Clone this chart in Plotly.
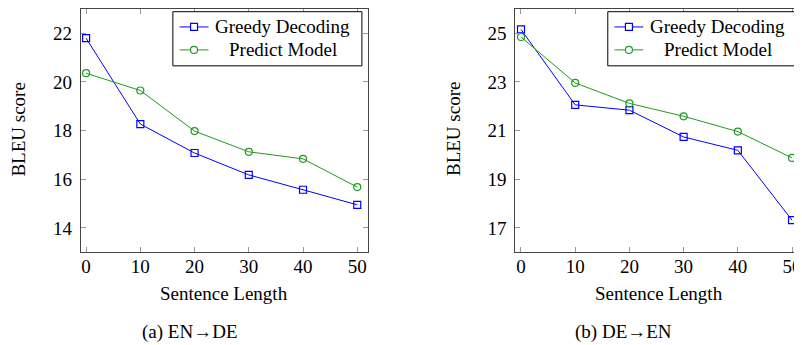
import plotly.graph_objects as go

# ---- data ----
lengths = [0, 10, 20, 30, 40, 50]
en_de_greedy = [21.80, 18.27, 17.08, 16.18, 15.57, 14.95]
en_de_predict = [20.36, 19.65, 17.98, 17.13, 16.84, 15.68]
de_en_greedy = [25.16, 22.06, 21.84, 20.74, 20.19, 17.32]
de_en_predict = [24.85, 22.96, 22.12, 21.59, 20.96, 19.88]
series_names = ["Greedy Decoding", "Predict Model"]
x_ticks = [0, 10, 20, 30, 40, 50]
y_ticks_left = [14, 16, 18, 20, 22]
y_ticks_right = [17, 19, 21, 23, 25]

OFF = 8  # page body margin
W, H = 802 - OFF, 345 - OFF
FONT = "Liberation Serif, Times New Roman, Times, serif"
BLUE = "#0000ff"
GREEN = "#1f9a1f"

def px_x(p):
    return (p - OFF) / W

def px_y(p):
    return 1 - (p - OFF) / H

fig = go.Figure()

def add_series(x, y, name, color, symbol, xa, ya):
    fig.add_trace(go.Scatter(
        x=x, y=y, name=name, mode="lines+markers",
        line=dict(color=color, width=1),
        marker=dict(symbol=symbol, size=7, color=color,
                    line=dict(color=color, width=1.2)),
        xaxis=xa, yaxis=ya, showlegend=False))

add_series(lengths, en_de_greedy, series_names[0], BLUE, "square-open", "x", "y")
add_series(lengths, en_de_predict, series_names[1], GREEN, "circle-open", "x", "y")
add_series(lengths, de_en_greedy, series_names[0], BLUE, "square-open", "x2", "y2")
add_series(lengths, de_en_predict, series_names[1], GREEN, "circle-open", "x2", "y2")

axis_common = dict(
    showgrid=False, zeroline=False, showline=True, linecolor="#444", linewidth=1,
    mirror="allticks", ticks="inside", ticklen=5, tickcolor="#999", tickwidth=1,
    tickfont=dict(family=FONT, size=19, color="black"), ticklabeloverflow="allow",
)

ytop, ybot = 5, 252
fig.update_layout(
    width=W, height=H,
    margin=dict(l=0, r=0, t=0, b=0),
    paper_bgcolor="white", plot_bgcolor="white",
    xaxis=dict(domain=[px_x(81), px_x(369)], range=[-0.975, 52.0],
               tickvals=x_ticks, anchor="y", ticklabelstandoff=-3, **axis_common),
    yaxis=dict(domain=[px_y(ybot), min(1, px_y(ytop))], range=[13, 23],
               tickvals=y_ticks_left, anchor="x", ticklabelstandoff=4, **axis_common),
    xaxis2=dict(domain=[px_x(516.7), 1.0], range=[-1.03, 51.47],
                tickvals=x_ticks, anchor="y2", ticklabelstandoff=-3, **axis_common),
    yaxis2=dict(domain=[px_y(ybot), min(1, px_y(ytop))], range=[16, 26],
                tickvals=y_ticks_right, anchor="x2", ticklabelstandoff=4, **axis_common),
    showlegend=False,
)

def label(text, x, y, angle=0):
    fig.add_annotation(text=text, x=px_x(x), y=px_y(y), xref="paper", yref="paper",
                       xanchor="center", yanchor="middle", showarrow=False,
                       textangle=angle, font=dict(family=FONT, size=19, color="black"))

label("BLEU score", 18.5, 128.5, -90)
label("Sentence Length", 225, 293)
label("(a) EN\u2192DE", 190, 332)
label("BLEU score", 454, 128.5, -90)
label("Sentence Length", 661, 293)
label("(b) DE\u2192EN", 625, 332)

# ---- legends (drawn in page pixels) ----
def legend_box(x0):
    fig.add_shape(type="rect", xref="paper", yref="paper",
                  x0=px_x(x0), x1=px_x(x0 + 189.5), y0=px_y(65), y1=px_y(10.7),
                  line=dict(color="black", width=1), fillcolor="white", layer="above")
    rows = [(26, BLUE, "square"), (49, GREEN, "circle")]
    for (yc, color, sym), name in zip(rows, series_names):
        fig.add_shape(type="line", xref="paper", yref="paper",
                      x0=px_x(x0 + 6.7), x1=px_x(x0 + 35.7), y0=px_y(yc), y1=px_y(yc),
                      line=dict(color=color, width=1), layer="above")
        mx = x0 + 21.2
        r = 3.5
        fig.add_shape(type="rect" if sym == "square" else "circle",
                      xref="paper", yref="paper",
                      x0=px_x(mx - r), x1=px_x(mx + r), y0=px_y(yc + r), y1=px_y(yc - r),
                      line=dict(color=color, width=1.2), fillcolor="white", layer="above")
        fig.add_annotation(text=name, x=px_x(x0 + 110.2), y=px_y(yc), xref="paper", yref="paper",
                           xanchor="center", yanchor="middle", showarrow=False,
                           font=dict(family=FONT, size=19, color="black"))

legend_box(173.3)
legend_box(609.3)

fig.write_html("out.html")
